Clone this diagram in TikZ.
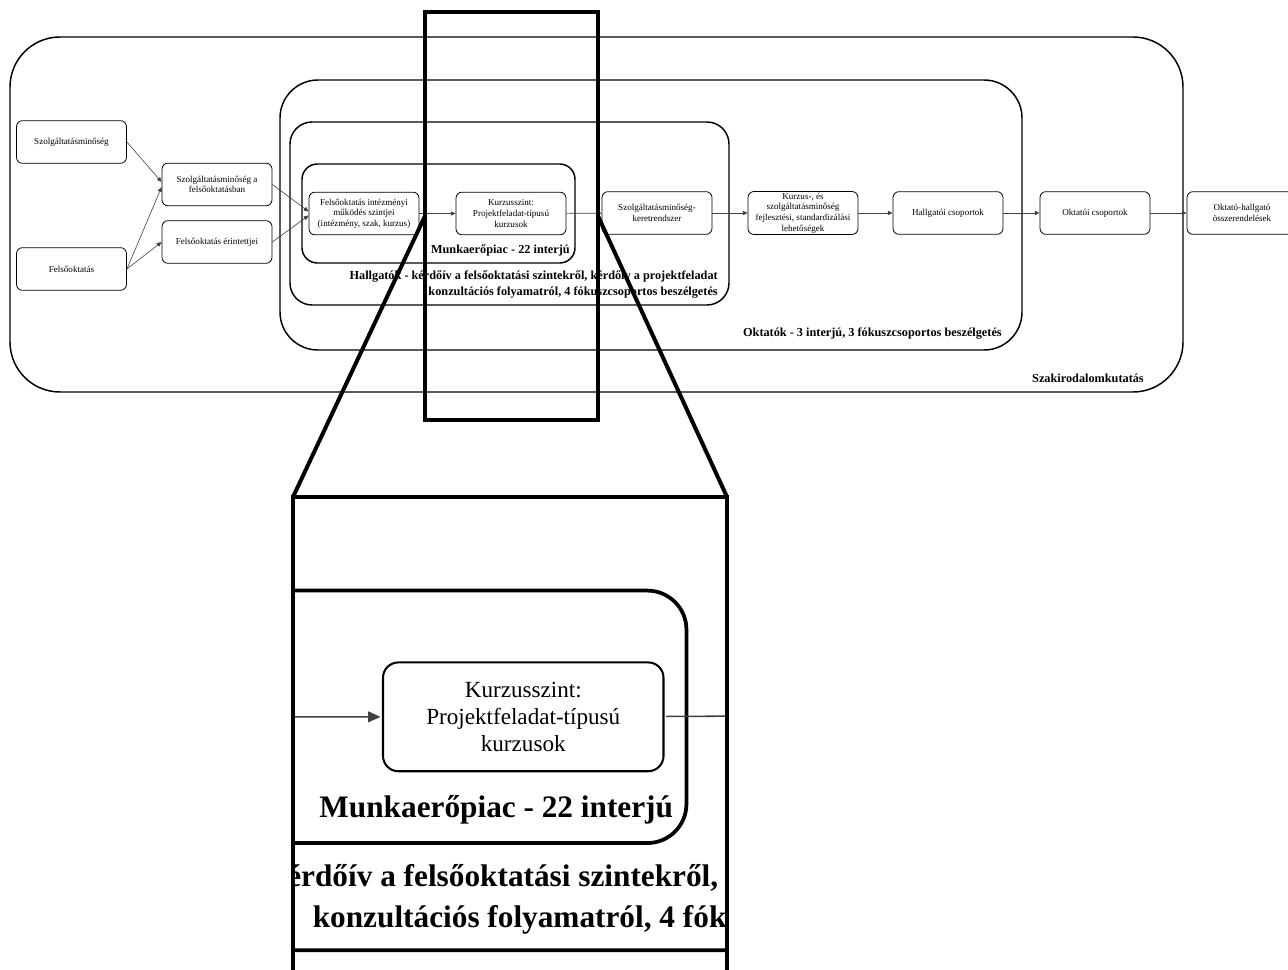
\documentclass[tikz,border=0pt]{standalone}
\usepackage{fontspec}
\setmainfont{Liberation Serif}
\usetikzlibrary{arrows.meta,calc}

% factor for line widths and corner radii (1 = normal view)
\newcommand{\lwscale}{1}

\tikzset{
  flowbox/.style={draw=black, line width=\lwscale*0.6pt, rounded corners=\lwscale*4.5pt,
    minimum width=82.5pt, minimum height=32pt, align=center, inner sep=1pt,
    font=\fontsize{6.8}{8}\selectfont},
  flowarrow/.style={draw=black!75, line width=\lwscale*0.45pt,
    -{Triangle[length=0pt 8, width=0pt 7]}},
  groupframe/.style={draw=black, line width=\lwscale*1.1pt},
  grouplabel/.style={align=right, inner sep=0pt,
    font=\fontsize{9.2}{12}\selectfont\bfseries},
  focusline/.style={draw=black, line width=3pt, line join=miter},
}

% the research design: nested groups, process boxes and their links
\newcommand{\flowchart}{%
  \draw[groupframe, rounded corners=\lwscale*37.5pt] (10,37) rectangle (1183,392);
  \draw[groupframe, rounded corners=\lwscale*28.5pt] (280,80) rectangle (1022,350);
  \draw[groupframe, rounded corners=\lwscale*16.5pt] (290,122) rectangle (729,305);
  \draw[groupframe, rounded corners=\lwscale*11.5pt] (302,164) rectangle (575,263);
  %
  \node[flowbox] (sq)    at (71.5,142)  {Szolgáltatásminőség};
  \node[flowbox] (fo)    at (71.5,269)  {Felsőoktatás};
  \node[flowbox] (sqfo)  at (217,184.5) {Szolgáltatásminőség a\\felsőoktatásban};
  \node[flowbox] (er)    at (217,242)   {Felsőoktatás érintettjei};
  \node[flowbox] (inst)  at (364,213.5) {Felsőoktatás intézményi\\működés szintjei\\(intézmény, szak, kurzus)};
  \node[flowbox] (kurz)  at (511,213.5) {Kurzusszint:\\Projektfeladat-típusú\\kurzusok};
  \node[flowbox] (keret) at (657,213)   {Szolgáltatásminőség-\\keretrendszer};
  \node[flowbox] (fejl)  at (803,213)   {Kurzus-, és\\szolgáltatásminőség\\fejlesztési, standardizálási\\lehetőségek};
  \node[flowbox] (hcs)   at (948,213)   {Hallgatói csoportok};
  \node[flowbox] (ocs)   at (1095,213)  {Oktatói csoportok};
  \node[flowbox] (ohk)   at (1242,213)  {Oktató-hallgató\\összerendelések};
  %
  \draw[flowarrow] (sq.east) -- ($(sqfo.west)+(0,-2.5)$);
  \draw[flowarrow] (fo.east) -- ($(sqfo.west)+(0,2.5)$);
  \draw[flowarrow] (fo.east) -- (er.west);
  \draw[flowarrow] (sqfo.east) -- ($(inst.west)+(0,-2)$);
  \draw[flowarrow] (er.east) -- ($(inst.west)+(0,2)$);
  \draw[flowarrow] (inst) -- (kurz);
  \draw[flowarrow] (kurz) -- (keret);
  \draw[flowarrow] (keret) -- (fejl);
  \draw[flowarrow] (fejl) -- (hcs);
  \draw[flowarrow] (hcs) -- (ocs);
  \draw[flowarrow] (ocs) -- (ohk);
  %
  \node[grouplabel, anchor=east] (lmunka) at (570,250) {Munkaerőpiac - 22 interjú};
  \node[grouplabel, anchor=east] (lhallg) at (718,285)
    {Hallgatók - kérdőív a felsőoktatási szintekről, kérdőív a projektfeladat\\
     konzultációs folyamatról, 4 fókuszcsoportos beszélgetés};
  \node[grouplabel, anchor=east] (loktat) at (1002,334) {Oktatók - 3 interjú, 3 fókuszcsoportos beszélgetés};
  \node[grouplabel, anchor=east] (lszak) at (1144,378) {Szakirodalomkutatás};
}

\begin{document}
\begin{tikzpicture}[x=0.75pt,y=-0.75pt]
  \useasboundingbox (0,0) rectangle (1288,970);
  \flowchart
  % focus frame and the lines to the enlarged view
  \coordinate (fTL) at (425,12);
  \coordinate (fBR) at (598,420);
  \coordinate (zL) at (425,216);
  \coordinate (zR) at (598,216);
  \coordinate (iTL) at (293,497);
  \coordinate (iTR) at (727,497);
  \coordinate (iBR) at (727,1000);
  \draw[focusline] (fTL) rectangle (fBR);
  \draw[focusline] (zL) -- (iTL);
  \draw[focusline] (zR) -- (iTR);
  % enlarged view
  \begin{scope}
    \clip (iTL) rectangle (iBR);
    \begin{scope}[shift={(-779.8,172.4)}, scale=2.55, transform shape]
      \renewcommand{\lwscale}{2.55}
      \flowchart
    \end{scope}
  \end{scope}
  \draw[focusline] (iTL) rectangle (iBR);
\end{tikzpicture}
\end{document}
